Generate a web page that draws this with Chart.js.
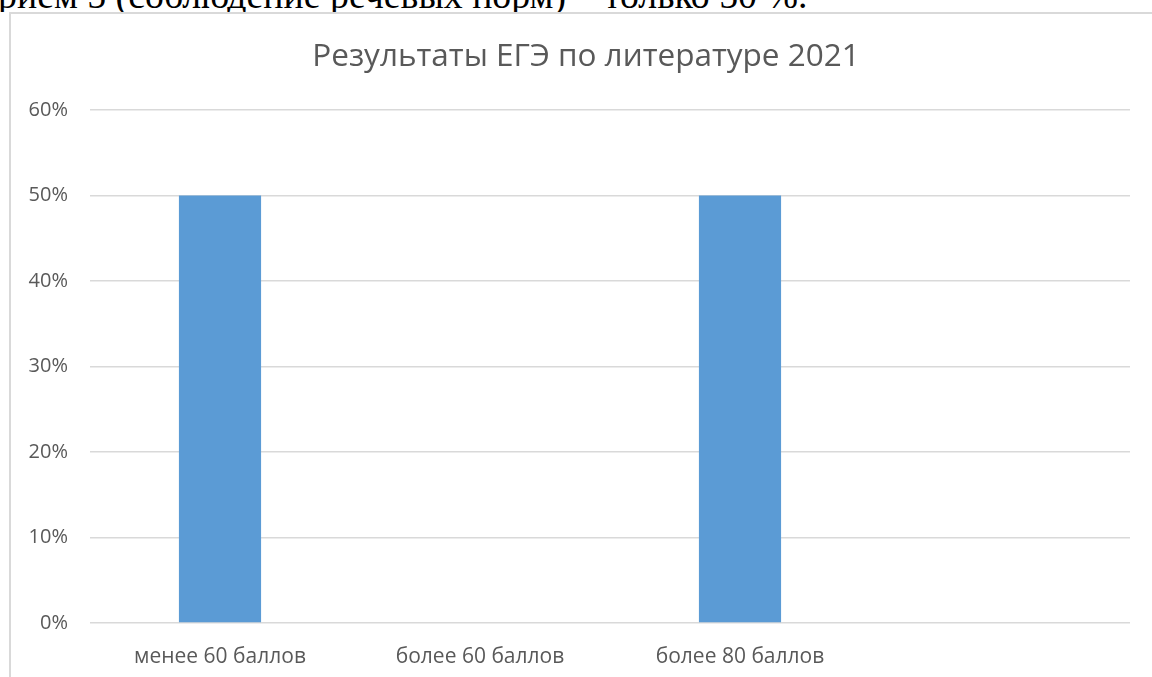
<!DOCTYPE html>
<html>
<head>
<meta charset="utf-8">
<script src="https://cdn.jsdelivr.net/npm/chart.js@4"></script>
<style>
  html, body { margin:0; padding:0; background:#fff; width:1152px; height:677px; overflow:hidden; position:relative; }
  #docclip { position:absolute; left:0; top:0; width:1152px; height:12px; overflow:hidden; }
  #doctext { position:absolute; left:-2px; top:-24px; font-family:"Liberation Serif","Times New Roman",serif; font-size:37.8px; line-height:38px; color:#000; white-space:nowrap; }
  #frame { position:absolute; left:9px; top:12px; width:2000px; height:2000px; border:2px solid #d9d9d9; box-sizing:border-box; }
  #wrap { position:absolute; left:0; top:0; width:1152px; height:677px; }
</style>
</head>
<body>
<div id="docclip"><div id="doctext">рием 5 (соблюдение речевых норм) – только 50 %.</div></div>
<div id="frame"></div>
<div id="wrap"><canvas id="c"></canvas></div>
<script>
const chartTitle = "Результаты ЕГЭ по литературе 2021";
const categories = ["менее 60 баллов", "более 60 баллов", "более 80 баллов", ""];
const seriesValues = [50, 0, 50, null];
const yTickValues = [0, 10, 20, 30, 40, 50, 60];
const yTickLabels = ["0%", "10%", "20%", "30%", "40%", "50%", "60%"];

const textColor = "#595959";
const gridColor = "#d9d9d9";
const fontFamily = "'Open Sans', sans-serif";

new Chart(document.getElementById("c"), {
  type: "bar",
  data: {
    labels: categories,
    datasets: [{
      data: seriesValues,
      backgroundColor: "#5b9bd5",
      borderWidth: 0,
      barPercentage: 1,
      categoryPercentage: 0.316
    }]
  },
  options: {
    responsive: true,
    maintainAspectRatio: false,
    animation: false,
    layout: { padding: { left: 42, right: 22, top: 0, bottom: 0 } },
    plugins: {
      legend: { display: false },
      tooltip: { enabled: false },
      title: {
        display: true,
        text: chartTitle,
        color: textColor,
        font: { family: fontFamily, size: 31.5, weight: "normal" },
        padding: { top: 38.5, bottom: 33.7 }
      }
    },
    scales: {
      x: {
        grid: { display: false, drawTicks: false },
        border: { display: false },
        ticks: { color: textColor, font: { family: fontFamily, size: 21 }, padding: 21, maxRotation: 0 },
        afterFit(scale) { scale.height = 54; }
      },
      y: {
        min: yTickValues[0], max: yTickValues[yTickValues.length - 1],
        grid: { color: gridColor, lineWidth: 1.5, drawTicks: false },
        border: { display: false },
        ticks: {
          stepSize: 10,
          color: textColor,
          font: { family: fontFamily, size: 20 },
          padding: 22,
          callback: function (value, index, ticks) {
            const v = ticks[index].value;
            const k = yTickValues.indexOf(Math.round(v));
            return k >= 0 ? yTickLabels[k] : "";
          }
        },
        afterFit(scale) {
          scale.width = 48;
          scale._computeLabelArea = function () { return undefined; };
        }
      }
    }
  }
});
</script>
</body>
</html>
